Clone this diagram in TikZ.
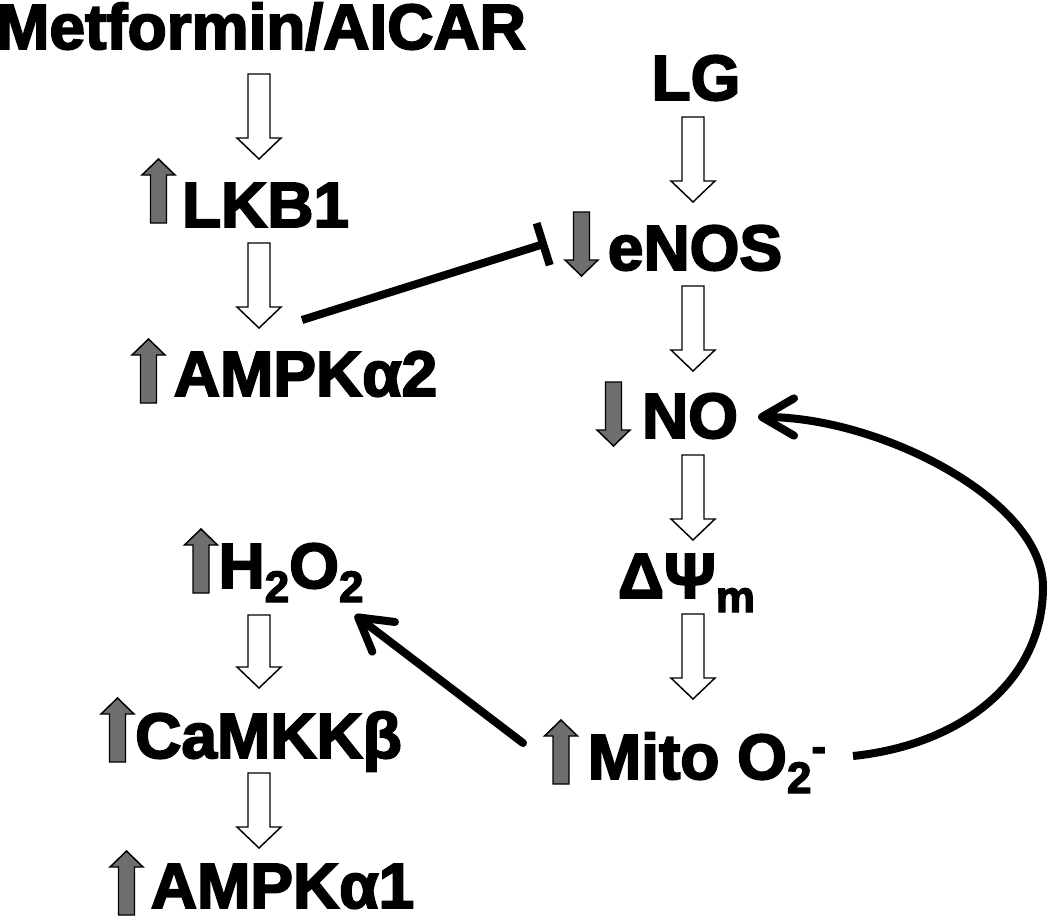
\documentclass[tikz,border=0pt]{standalone}
\usepackage{fontspec}
\setmainfont{Liberation Sans}[BoldFeatures={FakeBold=3}]
\usetikzlibrary{arrows.meta,calc}
\definecolor{upgray}{RGB}{110,110,110}
\newcommand\lowsub[1]{\raisebox{-10.5pt}{\fontsize{33}{33}\selectfont #1}}
\newcommand\highminus{\raisebox{13pt}{\fontsize{33}{33}\selectfont -}}
\begin{document}
\begin{tikzpicture}[x=0.75pt,y=-0.75pt,
  lbl/.style={anchor=base,inner sep=0pt,font=\fontsize{48}{56}\selectfont\bfseries},
  hollow/.style={draw=black,fill=white,line width=1.1pt,
    to path={let \p1=(\tikztostart),\p2=(\tikztotarget) in
      (\x1-8.25pt,\y1) -- (\x1-8.25pt,\y2+15.75pt) -- (\x1-16.5pt,\y2+15.75pt)
      -- (\x1,\y2) -- (\x1+16.5pt,\y2+15.75pt) -- (\x1+8.25pt,\y2+15.75pt)
      -- (\x1+8.25pt,\y1) -- cycle}},
  heavy link/.style={line width=6pt},
  barb/.style={-{Straight Barb[length=24pt,width=28pt,round]}},
  grayup/.pic={\draw[fill=upgray,line width=1.1pt] (-8,0) -- (-8,-48) -- (-16.5,-48) -- (0,-64) -- (16.5,-48) -- (8,-48) -- (8,0) -- cycle;},
  graydown/.pic={\draw[fill=upgray,line width=1.1pt] (-8,0) -- (-8,48) -- (-16.5,48) -- (0,64) -- (16.5,48) -- (8,48) -- (8,0) -- cycle;}
]
\useasboundingbox (0,0) rectangle (1050,917);

% labels
\node[lbl] (met) at (261,49) {Metformin/AICAR};
\node[lbl] (lkb) at (265.5,227) {LKB1};
\node[lbl] (ampk2) at (305.5,396) {AMPKα2};
\node[lbl] (lg) at (696,100) {LG};
\node[lbl] (enos) at (695,270) {eNOS};
\node[lbl] (no) at (690,438) {NO};
\node[lbl] (dpsi) at (686.5,598) {ΔΨ\lowsub{m}};
\node[lbl] (mito) at (707,779) {Mito O\lowsub{2}\highminus};
\node[lbl] (h2o2) at (291,588) {H\lowsub{2}O\lowsub{2}};
\node[lbl] (camkk) at (268.5,758) {CaMKKβ};
\node[lbl] (ampk1) at (282.5,908) {AMPKα1};

% up/down indicators
\pic at (158.5,223) {grayup};
\pic at (148.5,403) {grayup};
\pic at (201,593) {grayup};
\pic at (117.5,762) {grayup};
\pic at (126.5,915) {grayup};
\pic at (561,784) {grayup};
\pic at (581.5,212) {graydown};
\pic at (613.5,382) {graydown};

% hollow arrow end points
\coordinate (met-out) at (259,74);   \coordinate (lkb-in) at (259,159);
\coordinate (lkb-out) at (259,243);  \coordinate (ampk2-in) at (259,328);
\coordinate (lg-out) at (693,117);   \coordinate (enos-in) at (693,202);
\coordinate (enos-out) at (693,286); \coordinate (no-in) at (693,371);
\coordinate (no-out) at (693,455);   \coordinate (dpsi-in) at (693,540);
\coordinate (dpsi-out) at (693,614); \coordinate (mito-in) at (693,699);
\coordinate (h2o2-out) at (259,615); \coordinate (camkk-in) at (259,688);
\coordinate (camkk-out) at (259,773);\coordinate (ampk1-in) at (259,848);

\draw[hollow] (met-out) to (lkb-in);
\draw[hollow] (lkb-out) to (ampk2-in);
\draw[hollow] (lg-out) to (enos-in);
\draw[hollow] (enos-out) to (no-in);
\draw[hollow] (no-out) to (dpsi-in);
\draw[hollow] (dpsi-out) to (mito-in);
\draw[hollow] (h2o2-out) to (camkk-in);
\draw[hollow] (camkk-out) to (ampk1-in);

% black connectors
\coordinate (ampk2-inh) at (302,320);
\coordinate (enos-inh) at (547,243);
\draw[heavy link,-{Bar[width=33pt]}] (ampk2-inh) -- (enos-inh);

\coordinate (mito-h) at (523,743);
\coordinate (h2o2-h) at (355,615);
\draw[heavy link,line cap=round,barb] (mito-h) -- (h2o2-h);

\coordinate (mito-no) at (853,756);
\coordinate (loop-right) at (1043,587);
\coordinate (no-loop) at (758,417);
\draw[heavy link,barb] (mito-no) .. controls (960,745) and (1043,682) .. (loop-right)
  .. controls (1043,500) and (880,417) .. (no-loop);
\end{tikzpicture}
\end{document}
